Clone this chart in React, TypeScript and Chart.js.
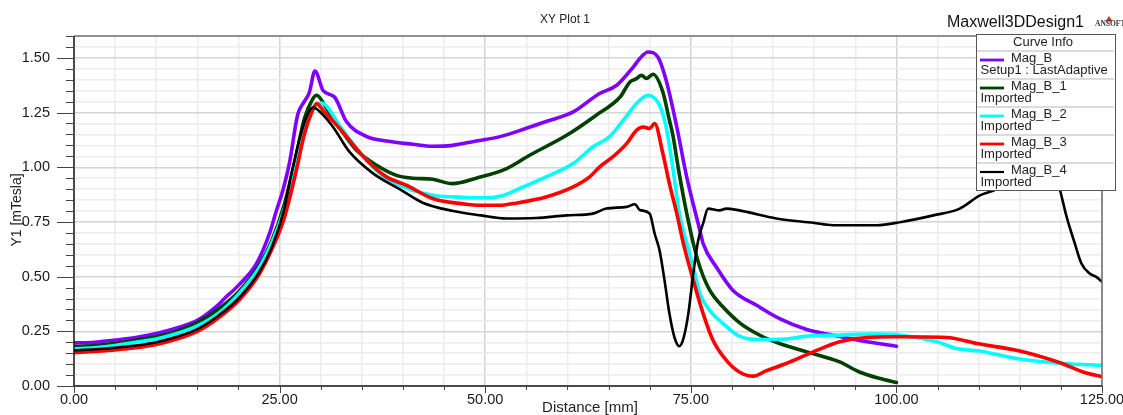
import React, { useEffect, useRef } from "react";
import { Chart, registerables } from "chart.js";

Chart.register(...registerables);

const FONT = '"Liberation Sans", Arial, Helvetica, sans-serif';

// [Distance mm, Y1 mTesla]
const magB: [number, number][] = [
  [0, 0.197], [2.5, 0.2], [5, 0.21], [7.5, 0.222], [10, 0.24], [12.5, 0.265], [15, 0.3], [17.5, 0.37],
  [18.3, 0.4], [20, 0.46], [22.2, 0.56], [23.8, 0.7], [24.6, 0.8], [25.4, 0.895], [26.2, 1.02], [27.2, 1.24],
  [28.0, 1.3], [28.6, 1.34], [29.3, 1.44], [30.3, 1.35], [31.7, 1.32], [33.1, 1.21], [35.6, 1.14], [38, 1.12],
  [41.2, 1.105], [43.6, 1.096], [46, 1.1], [48.9, 1.12], [51.8, 1.14], [55, 1.178], [57.5, 1.21], [60.7, 1.253],
  [63.9, 1.337], [66, 1.375], [68, 1.458], [68.8, 1.497], [69.8, 1.527], [71, 1.504], [72, 1.398], [73.3, 1.184],
  [74.5, 0.956], [76.1, 0.712], [76.5, 0.651], [78.1, 0.544], [80.1, 0.438], [83, 0.369], [85.8, 0.308],
  [89.1, 0.258], [92.3, 0.232], [96.4, 0.202], [100, 0.182],
];

const magB1: [number, number][] = [
  [0, 0.18], [2.5, 0.185], [5, 0.195], [7.5, 0.21], [10, 0.225], [12.5, 0.25], [15, 0.29], [17.5, 0.35],
  [20, 0.43], [22.5, 0.55], [24, 0.66], [25.5, 0.82], [27, 1.05], [28, 1.22], [29, 1.31], [29.5, 1.329],
  [30.7, 1.27], [32.3, 1.18], [34.3, 1.08], [36.8, 1.009], [39.2, 0.963], [41.2, 0.95], [43.6, 0.945],
  [46, 0.925], [48.9, 0.95], [52.6, 0.994], [55.4, 1.055], [59.9, 1.146], [63.5, 1.238], [66.4, 1.321],
  [67.6, 1.39], [68.4, 1.405], [69, 1.42], [69.6, 1.406], [70.4, 1.425], [71.6, 1.344], [72.4, 1.215],
  [72.8, 1.15], [73.6, 0.97], [74.5, 0.79], [75.3, 0.653], [76.1, 0.544], [77.3, 0.438], [78.9, 0.362],
  [80.9, 0.29], [83.4, 0.232], [85.8, 0.194], [89.1, 0.156], [93.1, 0.11], [95.5, 0.064], [98, 0.034], [100, 0.016],
];

const magB2: [number, number][] = [
  [0, 0.17], [2.5, 0.175], [5, 0.185], [7.5, 0.2], [10, 0.215], [12.5, 0.24], [15, 0.275], [17.5, 0.33],
  [20, 0.42], [22.5, 0.54], [24, 0.65], [25.5, 0.8], [27, 1.0], [28, 1.16], [29, 1.26], [30.1, 1.294],
  [30.7, 1.28], [32.3, 1.19], [35.6, 1.032], [38, 0.948], [41.2, 0.895], [43.6, 0.872], [47.7, 0.862],
  [50.5, 0.86], [51.8, 0.867], [54.2, 0.903], [57.4, 0.956], [60.7, 1.017], [63.1, 1.093], [65.1, 1.139],
  [66.8, 1.215], [68.4, 1.291], [69.8, 1.329], [71.2, 1.283], [72, 1.184], [72.8, 1.001], [73.6, 0.79],
  [74.5, 0.653], [75.3, 0.544], [76.1, 0.423], [77.3, 0.346], [78.9, 0.286], [80.9, 0.228], [83.4, 0.212],
  [86.6, 0.215], [89.1, 0.228], [92.3, 0.232], [97.2, 0.237], [100.6, 0.232], [105.1, 0.2], [107.3, 0.171],
  [110.1, 0.16], [114.6, 0.126], [120.3, 0.103], [125, 0.095],
];

const magB3: [number, number][] = [
  [0, 0.152], [2.5, 0.158], [5, 0.165], [7.5, 0.175], [10, 0.19], [12.5, 0.215], [15, 0.25], [17.5, 0.31],
  [20, 0.39], [22.5, 0.51], [24, 0.62], [25.5, 0.76], [27, 0.98], [28, 1.15], [29, 1.26], [29.5, 1.291],
  [30.3, 1.26], [32.3, 1.177], [35.6, 1.032], [38, 0.956], [40.4, 0.918], [43.6, 0.857], [47.7, 0.831],
  [49.3, 0.826], [51.8, 0.826], [53.4, 0.834], [57.4, 0.864], [60.7, 0.91], [62.7, 0.956], [63.9, 1.001],
  [65.5, 1.047], [67.2, 1.108], [68.4, 1.169], [69.2, 1.184], [70, 1.177], [70.6, 1.2], [71.6, 1.063],
  [72.4, 0.925], [73.3, 0.788], [74.1, 0.651], [75.3, 0.484], [76.5, 0.331], [77.7, 0.209], [79.3, 0.118],
  [80.9, 0.064], [82.6, 0.045], [84.2, 0.07], [86.6, 0.103], [89.9, 0.156], [93.1, 0.202], [96.4, 0.222],
  [100, 0.225], [106.1, 0.222], [109.8, 0.194], [115, 0.16], [119.9, 0.106], [122.7, 0.064], [125, 0.042],
];

const magB4: [number, number][] = [
  [0, 0.163], [2.5, 0.168], [5, 0.175], [7.5, 0.185], [10, 0.2], [12.5, 0.225], [15, 0.26], [17.5, 0.32],
  [20, 0.4], [22.5, 0.52], [24, 0.63], [25.5, 0.8], [26.5, 0.98], [27.5, 1.14], [28.5, 1.25], [29.1, 1.273],
  [30, 1.25], [31.5, 1.184], [33.5, 1.07], [36.4, 0.971], [39.6, 0.9], [42.4, 0.838], [46.1, 0.8], [49.5, 0.78],
  [52.6, 0.766], [56.2, 0.768], [59.9, 0.78], [63.1, 0.788], [64.7, 0.811], [67.2, 0.819], [68.2, 0.831],
  [68.8, 0.805], [70, 0.788], [70.6, 0.697], [71.2, 0.62], [71.8, 0.484], [72.4, 0.331], [73, 0.224],
  [73.6, 0.182], [74.1, 0.217], [74.7, 0.331], [75.3, 0.514], [75.9, 0.666], [76.5, 0.743], [77.1, 0.811],
  [78.5, 0.803], [79.3, 0.811], [80.9, 0.803], [81.8, 0.796], [85.4, 0.766], [89.9, 0.746], [92.3, 0.735],
  [97.6, 0.735], [100.6, 0.75], [104.5, 0.78], [107.7, 0.811], [110.1, 0.87], [112.2, 0.9], [114, 0.95],
  [116, 0.99], [118, 1.0], [119.3, 0.97], [119.9, 0.895], [120.7, 0.773], [121.7, 0.651], [122.5, 0.56],
  [123.5, 0.514], [124.3, 0.499], [125, 0.476],
];

const seriesNames = ["Mag_B", "Mag_B_1", "Mag_B_2", "Mag_B_3", "Mag_B_4"];
const seriesSub = ["Setup1 : LastAdaptive", "Imported", "Imported", "Imported", "Imported"];
const seriesColors = ["#8000ff", "#004000", "#00ffff", "#ff0000", "#000000"];
const seriesData = [magB, magB1, magB2, magB3, magB4];

const X_MIN = 0, X_MAX = 125, X_STEP = 5, X_MAJOR = 25;
const Y_MIN = 0, Y_MAX = 1.6, Y_STEP = 0.05, Y_MAJOR = 0.25;

const isMajorX = (v: number) => Math.round(v) % X_MAJOR === 0;
const isMajorY = (v: number) => Math.round(v * 100) % Math.round(Y_MAJOR * 100) === 0;

const decor = {
  id: "decor",
  afterDatasetsDraw(chart: any) {
    const { ctx, chartArea: a, scales } = chart;
    const xs = scales.x, ys = scales.y;
    ctx.save();
    // top & right frame
    ctx.strokeStyle = "#707070";
    ctx.lineWidth = 1.5;
    ctx.beginPath();
    ctx.moveTo(a.left, a.top);
    ctx.lineTo(a.right, a.top);
    ctx.lineTo(a.right, a.bottom);
    ctx.stroke();
    // axes
    ctx.strokeStyle = "#1a1a1a";
    ctx.lineWidth = 1.5;
    ctx.beginPath();
    ctx.moveTo(a.left, a.top);
    ctx.lineTo(a.left, a.bottom);
    ctx.lineTo(a.right, a.bottom);
    ctx.stroke();
    // ticks
    ctx.strokeStyle = "#444";
    ctx.lineWidth = 1;
    ctx.beginPath();
    for (let i = 0; i <= Math.round((Y_MAX - Y_MIN) / Y_STEP); i++) {
      const v = Y_MIN + i * Y_STEP;
      const y = Math.round(ys.getPixelForValue(v)) + 0.5;
      const len = isMajorY(v) ? 17 : 8;
      ctx.moveTo(a.left - len, y);
      ctx.lineTo(a.left, y);
    }
    for (let i = 0; i <= Math.round((X_MAX - X_MIN) / X_STEP); i++) {
      const v = X_MIN + i * X_STEP;
      const x = Math.round(xs.getPixelForValue(v)) + 0.5;
      const len = isMajorX(v) ? 7 : 4;
      ctx.moveTo(x, a.bottom);
      ctx.lineTo(x, a.bottom + len);
    }
    ctx.stroke();
    ctx.restore();
  },
  afterDraw(chart: any) {
    const { ctx } = chart;
    ctx.save();
    ctx.fillStyle = "#222";
    ctx.textBaseline = "middle";
    // title
    ctx.font = `12px ${FONT}`;
    ctx.textAlign = "center";
    ctx.fillText("XY Plot 1", 565, 20);
    // design name
    ctx.font = `16px ${FONT}`;
    ctx.textAlign = "left";
    ctx.fillStyle = "#111";
    ctx.fillText("Maxwell3DDesign1", 947, 23);
    // logo
    ctx.fillStyle = "#c03030";
    ctx.beginPath();
    ctx.moveTo(1109, 16);
    ctx.lineTo(1105.5, 21.5);
    ctx.lineTo(1112.5, 21.5);
    ctx.closePath();
    ctx.fill();
    ctx.fillStyle = "#333";
    ctx.font = `bold 7.5px "Liberation Serif", "DejaVu Serif", serif`;
    ctx.fillText("ANSOFT", 1095, 24.5);
    // axis titles
    ctx.fillStyle = "#222";
    ctx.font = `15px ${FONT}`;
    ctx.textAlign = "center";
    ctx.fillText("Distance [mm]", 590, 408);
    ctx.save();
    ctx.translate(17, 210);
    ctx.rotate(-Math.PI / 2);
    ctx.font = `14px ${FONT}`;
    ctx.fillText("Y1 [mTesla]", 0, 0);
    ctx.restore();

    // legend box
    const bx = 976, by = 34, bw = 139, bh = 156;
    ctx.fillStyle = "#fff";
    ctx.fillRect(bx, by, bw, bh);
    ctx.strokeStyle = "#555";
    ctx.lineWidth = 1;
    ctx.strokeRect(bx + 0.5, by + 0.5, bw, bh);
    ctx.fillStyle = "#222";
    ctx.font = `13px ${FONT}`;
    ctx.textAlign = "center";
    ctx.fillText("Curve Info", 1043, 42);
    const rowTop = 51, rowH = 28;
    for (let i = 0; i < seriesNames.length; i++) {
      const top = rowTop + i * rowH;
      ctx.strokeStyle = "#cfcfcf";
      ctx.lineWidth = 1.5;
      ctx.beginPath();
      ctx.moveTo(bx + 1, top);
      ctx.lineTo(bx + bw - 1, top);
      ctx.stroke();
      ctx.strokeStyle = seriesColors[i];
      ctx.lineWidth = i === 4 ? 2.2 : 2.8;
      ctx.beginPath();
      ctx.moveTo(980, top + 9);
      ctx.lineTo(1004, top + 9);
      ctx.stroke();
      ctx.fillStyle = "#222";
      ctx.textAlign = "left";
      ctx.fillText(seriesNames[i], 1011, top + 7.5);
      ctx.fillText(seriesSub[i], 980.5, top + 19.5);
    }
    ctx.restore();
  },
};

export default function App() {
  const ref = useRef<HTMLCanvasElement | null>(null);
  useEffect(() => {
    if (!ref.current) return;
    const chart = new Chart(ref.current, {
      type: "line",
      data: {
        datasets: seriesData.map((d, i) => ({
          label: seriesNames[i],
          data: d.map(([x, y]) => ({ x, y })),
          borderColor: seriesColors[i],
          backgroundColor: seriesColors[i],
          borderWidth: i === 4 ? 2.6 : 3.6,
          pointRadius: 0,
          fill: false,
          cubicInterpolationMode: "monotone" as const,
          order: 4 - i,
        })),
      },
      options: {
        responsive: false,
        devicePixelRatio: 1,
        animation: false,
        events: [],
        layout: { padding: { top: 36, right: 21, left: 0, bottom: 0 } },
        plugins: {
          legend: { display: false },
          title: { display: false },
          tooltip: { enabled: false },
        },
        elements: { line: { borderJoinStyle: "round", borderCapStyle: "round" } },
        scales: {
          x: {
            type: "linear",
            min: X_MIN,
            max: X_MAX,
            afterFit: (s: any) => {
              s.height = 29;
              s.paddingLeft = 0;
              s.paddingRight = 0;
            },
            ticks: {
              stepSize: X_STEP,
              autoSkip: false,
              maxRotation: 0,
              padding: 5,
              color: "#1a1a1a",
              font: { family: FONT, size: 14.5 },
              callback: (v: any) => (isMajorX(Number(v)) ? Number(v).toFixed(2) : ""),
            },
            grid: {
              drawTicks: false,
              color: (c: any) => (c.tick && isMajorX(c.tick.value) ? "#d4d4d4" : "#ececec"),
              lineWidth: 1.5,
            },
            border: { display: false },
          },
          y: {
            type: "linear",
            min: Y_MIN,
            max: Y_MAX,
            afterFit: (s: any) => {
              s.width = 74;
              s.paddingTop = 0;
              s.paddingBottom = 0;
            },
            ticks: {
              stepSize: Y_STEP,
              autoSkip: false,
              padding: 24,
              color: "#1a1a1a",
              font: { family: FONT, size: 14.5 },
              callback: (v: any) => (isMajorY(Number(v)) ? (Math.round(Number(v) * 100) / 100).toFixed(2) : ""),
            },
            grid: {
              drawTicks: false,
              color: (c: any) => (c.tick && isMajorY(c.tick.value) ? "#d4d4d4" : "#ececec"),
              lineWidth: 1.5,
            },
            border: { display: false },
          },
        },
      },
      plugins: [decor],
    } as any);
    return () => chart.destroy();
  }, []);
  return (
    <div style={{ position: "absolute", left: 0, top: 0, width: 1123, height: 415, background: "#fff" }}>
      <canvas ref={ref} width={1123} height={415} style={{ display: "block", width: 1123, height: 415 }} />
    </div>
  );
}
